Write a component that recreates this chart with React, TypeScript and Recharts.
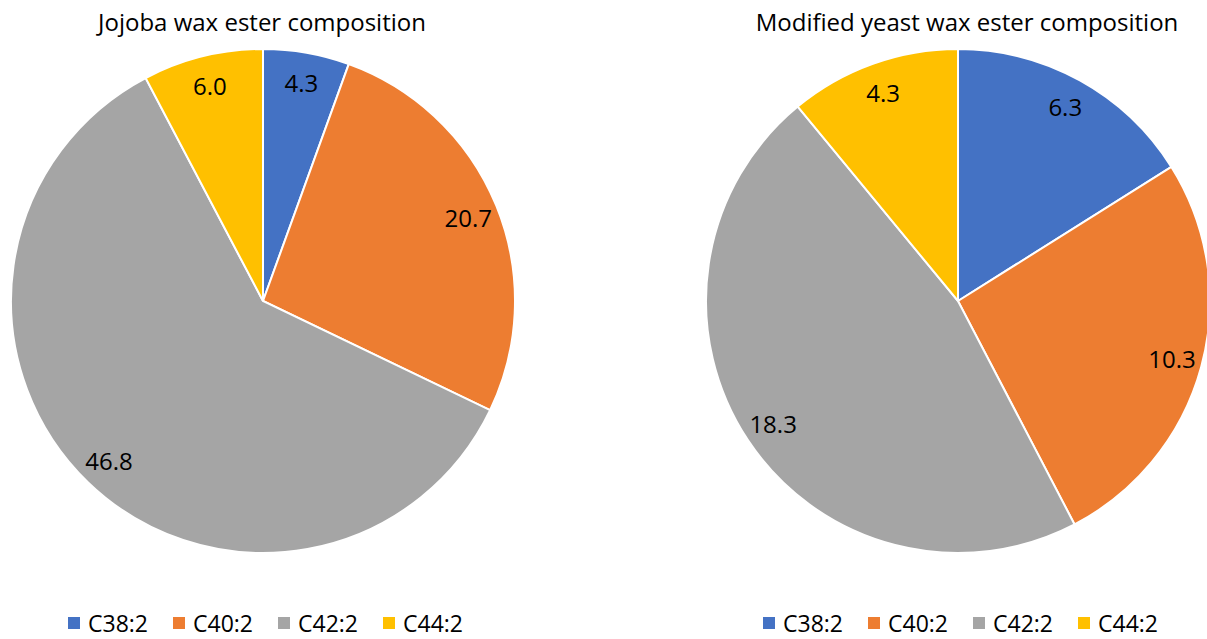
import React from "react";
import { PieChart, Pie, Cell, Legend } from "recharts";

const categories = ["C38:2", "C40:2", "C42:2", "C44:2"];
const jojobaValues = [4.3, 20.7, 46.8, 6.0];
const yeastValues = [6.3, 10.3, 18.3, 4.3];
const colors = ["#4472C4", "#ED7D31", "#A5A5A5", "#FFC000"];
const titles = ["Jojoba wax ester composition", "Modified yeast wax ester composition"];

const FONT = "'Open Sans', sans-serif";
const RADIAN = Math.PI / 180;

const build = (vals: number[]) => categories.map((name, i) => ({ name, value: vals[i] }));

const renderLabel = (p: any) => {
  const r = p.outerRadius * 0.88;
  const x = p.cx + r * Math.cos(-p.midAngle * RADIAN);
  const y = p.cy + r * Math.sin(-p.midAngle * RADIAN);
  return (
    <text x={x} y={y} textAnchor="middle" dominantBaseline="central" fill="#000" fontSize={24} fontFamily={FONT}>
      {Number(p.value).toFixed(1)}
    </text>
  );
};

const LegendContent = () => (
  <div style={{ display: "flex", fontFamily: FONT, fontSize: 23, color: "#000", lineHeight: "20px", height: 20 }}>
    {categories.map((c, i) => (
      <div key={c} style={{ width: 105, display: "flex", alignItems: "center" }}>
        <span style={{ display: "inline-block", width: 12, height: 12, background: colors[i], marginRight: 8 }} />
        <span>{c}</span>
      </div>
    ))}
  </div>
);

function OnePie({ vals, title, left, width, cx, titleX, legendLeft }: any) {
  return (
    <div style={{ position: "absolute", left, top: 0, width, height: 639 }}>
      <svg width={width} height={40} style={{ position: "absolute", left: 0, top: 0 }}>
        <text x={titleX} y={31} textAnchor="middle" fontSize={24} fontFamily={FONT} fill="#000">
          {title}
        </text>
      </svg>
      <PieChart
        width={width}
        height={639}
        margin={{ top: 0, right: 0, bottom: 0, left: 0 }}
        style={{ position: "absolute", left: 0, top: 0 }}
      >
        <Pie
          data={build(vals)}
          dataKey="value"
          nameKey="name"
          cx={cx}
          cy={301}
          outerRadius={252}
          startAngle={90}
          endAngle={-270}
          stroke="#ffffff"
          strokeWidth={2}
          label={renderLabel}
          labelLine={false}
          isAnimationActive={false}
        >
          {categories.map((c, i) => (
            <Cell key={c} fill={colors[i]} />
          ))}
        </Pie>
        <Legend
          content={<LegendContent />}
          wrapperStyle={{ position: "absolute", left: legendLeft, top: 613, width: 430, height: 20, bottom: "auto" }}
        />
      </PieChart>
    </div>
  );
}

export default function App() {
  return (
    <div style={{ position: "absolute", left: 0, top: 0, width: 1207, height: 639, background: "#fff", overflow: "hidden" }}>
      <OnePie vals={jojobaValues} title={titles[0]} left={0} width={600} cx={263} titleX={262} legendLeft={68} />
      <OnePie vals={yeastValues} title={titles[1]} left={600} width={607} cx={358} titleX={367} legendLeft={163} />
    </div>
  );
}
